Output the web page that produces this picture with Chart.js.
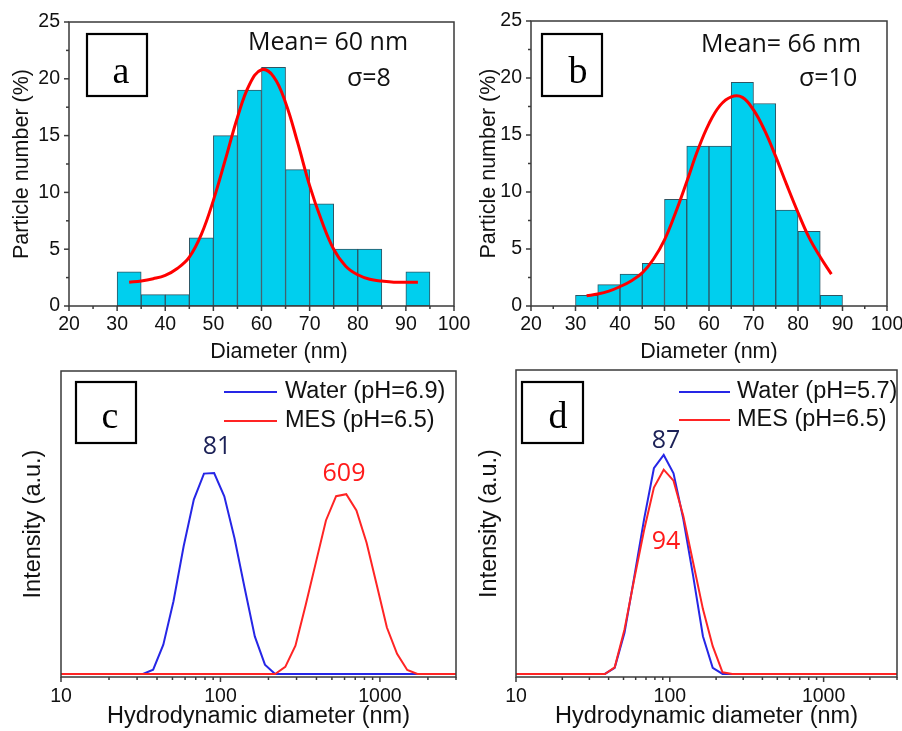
<!DOCTYPE html>
<html>
<head>
<meta charset="utf-8">
<script src="https://cdn.jsdelivr.net/npm/chart.js@4.4.1/dist/chart.umd.min.js"></script>
<style>
  html, body { margin: 0; padding: 0; background: #fff; overflow: hidden; }
  #figure { position: relative; width: 902px; height: 731px; overflow: hidden; background: #fff; }
  #figure canvas { position: absolute; }
</style>
</head>
<body>
<div id="figure">
  <canvas id="panelA" width="480" height="370" style="left:0;top:0"></canvas>
  <canvas id="panelB" width="460" height="370" style="left:462px;top:0"></canvas>
  <canvas id="panelC" width="460" height="391" style="left:0;top:340px"></canvas>
  <canvas id="panelD" width="460" height="391" style="left:460px;top:340px"></canvas>
</div>
<script>
// histogram bins (centre of each 5 nm class) and particle number in %
const binsA = [32.5, 37.5, 42.5, 47.5, 52.5, 57.5, 62.5, 67.5, 72.5, 77.5, 82.5, 87.5, 92.5];
const percentA = [3, 1, 1, 6, 15, 19, 21, 12, 9, 5, 5, 0, 3];
const binsB = [32.5, 37.5, 42.5, 47.5, 52.5, 57.5, 62.5, 67.5, 72.5, 77.5, 82.5, 87.5];
const percentB = [0.93, 1.87, 2.80, 3.74, 9.35, 14.02, 14.02, 19.63, 17.76, 8.41, 6.54, 0.93];

// gaussian fit curves
const fitXA = [32.5, 35, 37.5, 40, 42.5, 45, 47.5, 50, 52.5, 55, 57.5, 60, 62.5, 65, 67.5, 70, 72.5, 75, 77.5, 80, 82.5, 85, 87.5, 90, 92.5];
const fitYA = [2.1, 2.2, 2.4, 2.7, 3.3, 4.3, 6.3, 9.3, 12.9, 16.6, 19.5, 20.8, 20.2, 17.9, 14.4, 10.6, 7.5, 5.0, 3.5, 2.75, 2.35, 2.2, 2.1, 2.1, 2.1];
const fitXB = [32.5, 35, 37.5, 40, 42.5, 45, 47.5, 50, 52.5, 55, 57.5, 60, 62.5, 65, 67.5, 70, 72.5, 75, 77.5, 80, 82.5, 85, 87.5];
const fitYB = [0.9, 1.05, 1.3, 1.7, 2.2, 2.9, 4.1, 5.8, 8.2, 10.9, 13.7, 16.0, 17.6, 18.35, 18.3, 17.2, 15.4, 13.1, 10.6, 8.2, 6.0, 4.3, 2.8];

// DLS size classes (nm) and intensity distributions
const sizeClasses = [8.721, 10.1, 11.7, 13.54, 15.69, 18.17, 21.04, 24.36, 28.21, 32.67, 37.84, 43.82, 50.75, 58.77, 68.06, 78.82, 91.28, 105.7, 122.4, 141.8, 164.2, 190.1, 220.2, 255.0, 295.3, 342.0, 396.1, 458.7, 531.2, 615.1, 712.4, 825.0, 955.4, 1106, 1281, 1484, 1718, 1990, 2305, 2669, 3091];
const waterC = [0, 0, 0, 0, 0, 0, 0, 0, 0, 0, 0.021, 0.145, 0.36, 0.632, 0.863, 0.992, 0.995, 0.88, 0.673, 0.426, 0.186, 0.046, 0, 0, 0, 0, 0, 0, 0, 0, 0, 0, 0, 0, 0, 0, 0, 0, 0, 0, 0];
const mesC = [0, 0, 0, 0, 0, 0, 0, 0, 0, 0, 0, 0, 0, 0, 0, 0, 0, 0, 0, 0, 0, 0, 0, 0.035, 0.14, 0.34, 0.55, 0.76, 0.88, 0.89, 0.81, 0.65, 0.44, 0.23, 0.10, 0.02, 0, 0, 0, 0, 0];
const waterD = [0, 0, 0, 0, 0, 0, 0, 0, 0, 0, 0, 0.03, 0.203, 0.48, 0.764, 1.015, 1.081, 0.99, 0.764, 0.484, 0.186, 0.03, 0, 0, 0, 0, 0, 0, 0, 0, 0, 0, 0, 0, 0, 0, 0, 0, 0, 0, 0];
const mesD = [0, 0, 0, 0, 0, 0, 0, 0, 0, 0, 0, 0.033, 0.22, 0.47, 0.71, 0.92, 1.008, 0.954, 0.78, 0.55, 0.32, 0.137, 0.008, 0, 0, 0, 0, 0, 0, 0, 0, 0, 0, 0, 0, 0, 0, 0, 0, 0, 0];

// tick labels
const histTicksX = [20, 30, 40, 50, 60, 70, 80, 90, 100];
const histTicksY = [0, 5, 10, 15, 20, 25];
const dlsTicksX = [10, 100, 1000];

const SANS = 'Liberation Sans';
const NOTE = '25px "Open Sans"';
const INK = '#111';

Chart.defaults.font.family = SANS;
Chart.defaults.color = INK;

// minor ticks: halfway between histogram majors, 2..9 per decade on the log axis
const halfSteps = (majors) => majors.slice(1).map((v, i) => (v + majors[i]) / 2);
const decadeSteps = (majors, max) => {
  const out = [];
  majors.forEach(m => { for (let k = 2; k <= 9; k++) if (m * k <= max) out.push(m * k); });
  return out;
};

// frame, tick marks, letter box, notes and legend
const panelDeco = {
  id: 'panelDeco',
  afterDraw(chart, args, opts) {
    const {ctx, chartArea: ca, scales} = chart;
    ctx.save();
    ctx.strokeStyle = '#3a3a3a';
    ctx.lineWidth = 1.5;
    ctx.strokeRect(ca.left, ca.top, ca.right - ca.left, ca.bottom - ca.top);

    const tickMarks = (scale, values, len) => {
      values.forEach(v => {
        const p = scale.getPixelForValue(v);
        ctx.beginPath();
        if (scale.isHorizontal()) { ctx.moveTo(p, ca.bottom); ctx.lineTo(p, ca.bottom + len); }
        else { ctx.moveTo(ca.left, p); ctx.lineTo(ca.left - len, p); }
        ctx.stroke();
      });
    };
    Object.keys(opts.ticks || {}).forEach(key => {
      const t = opts.ticks[key];
      tickMarks(scales[key], t.major, 5);
      tickMarks(scales[key], t.minor, 3);
    });

    if (opts.box) {
      const b = opts.box;
      ctx.strokeStyle = '#000';
      ctx.lineWidth = 2.2;
      ctx.strokeRect(ca.left + b.x, ca.top + b.y, b.w, b.h);
      ctx.fillStyle = '#000';
      ctx.font = '38px "Liberation Serif"';
      ctx.textAlign = 'center';
      ctx.textBaseline = 'alphabetic';
      ctx.fillText(b.letter, ca.left + b.lx, ca.top + b.ly);
    }

    (opts.notes || []).forEach(n => {
      ctx.fillStyle = n.color || INK;
      ctx.font = n.font;
      ctx.textAlign = n.align || 'left';
      ctx.textBaseline = 'middle';
      ctx.fillText(n.text, ca.left + n.x, ca.top + n.y);
    });

    if (opts.legend) {
      const lg = opts.legend;
      chart.data.datasets.forEach((ds, i) => {
        const y = ca.top + lg.y + i * lg.gap;
        ctx.strokeStyle = ds.borderColor;
        ctx.lineWidth = ds.borderWidth;
        ctx.beginPath();
        ctx.moveTo(ca.left + lg.x1, y);
        ctx.lineTo(ca.left + lg.x2, y);
        ctx.stroke();
        ctx.fillStyle = INK;
        ctx.font = '23.5px ' + SANS;
        ctx.textAlign = 'left';
        ctx.textBaseline = 'middle';
        ctx.fillText(ds.label, ca.left + lg.tx, y);
      });
    }
    ctx.restore();
  }
};

function histChart(id, bins, pct, fitX, fitY, yAxisWidth, padRight, deco, xTitle) {
  return new Chart(document.getElementById(id), {
    type: 'bar',
    data: {
      datasets: [
        {
          type: 'line',
          data: fitX.map((x, i) => ({x, y: fitY[i]})),
          borderColor: '#ff0000',
          borderWidth: 3,
          pointRadius: 0,
          tension: 0.4,
          order: 0
        },
        {
          type: 'bar',
          data: bins.map((x, i) => ({x, y: pct[i]})),
          backgroundColor: '#00cfee',
          borderColor: '#2f5563',
          borderWidth: 1,
          borderSkipped: false,
          barPercentage: 1,
          categoryPercentage: 1,
          order: 1
        }
      ]
    },
    options: {
      responsive: false,
      animation: false,
      devicePixelRatio: 1,
      layout: {padding: {top: deco.padTop, right: padRight, left: 0, bottom: 0}},
      plugins: {legend: {display: false}, tooltip: {enabled: false}, panelDeco: deco},
      scales: {
        x: {
          type: 'linear', min: 20, max: 100, bounds: 'data', offset: false,
          afterBuildTicks: s => { s.ticks = histTicksX.map(v => ({value: v})); },
          afterFit: s => { s.height = 64; },
          grid: {display: false, drawTicks: false, offset: false},
          border: {display: false},
          ticks: {padding: 7, autoSkip: false, maxRotation: 0, font: {size: 19.5}, callback: v => v},
          title: {display: !!xTitle, text: xTitle || '', font: {size: 21.5}, padding: {top: 0, bottom: 5}}
        },
        y: {
          type: 'linear', min: 0, max: 25, bounds: 'data',
          afterBuildTicks: s => { s.ticks = histTicksY.map(v => ({value: v})); },
          afterFit: s => { s.width = yAxisWidth; },
          grid: {display: false, drawTicks: false},
          border: {display: false},
          ticks: {padding: 9, font: {size: 19.5}, callback: v => v},
          title: {display: true, text: 'Particle number (%)', font: {size: 21.5}, padding: {top: deco.yTitlePad, bottom: 0}}
        }
      }
    },
    plugins: [panelDeco]
  });
}

function dlsChart(id, water, mes, waterLabel, mesLabel, yAxisWidth, padRight, deco) {
  return new Chart(document.getElementById(id), {
    type: 'line',
    data: {
      datasets: [
        {label: waterLabel, data: sizeClasses.map((x, i) => ({x, y: water[i]})), borderColor: '#2626e6', borderWidth: 2, pointRadius: 0, tension: 0, order: 2},
        {label: mesLabel, data: sizeClasses.map((x, i) => ({x, y: mes[i]})), borderColor: '#ff2424', borderWidth: 2, pointRadius: 0, tension: 0, order: 1}
      ]
    },
    options: {
      responsive: false,
      animation: false,
      devicePixelRatio: 1,
      layout: {padding: {top: deco.padTop, right: padRight, left: 0, bottom: 0}},
      plugins: {legend: {display: false}, tooltip: {enabled: false}, panelDeco: deco},
      scales: {
        x: {
          type: 'logarithmic', min: 10, max: 3000, bounds: 'data',
          afterBuildTicks: s => { s.ticks = dlsTicksX.map(v => ({value: v})); },
          afterFit: s => { s.height = 54; },
          grid: {display: false, drawTicks: false},
          border: {display: false},
          ticks: {padding: 8.3, autoSkip: false, maxRotation: 0, font: {size: 19.5}, callback: v => v},
          title: {display: true, text: 'Hydrodynamic diameter (nm)', font: {size: 23.5}, padding: {top: 0, bottom: 0}}
        },
        y: {
          type: 'linear', min: -0.015, max: 1.5, bounds: 'data',
          afterFit: s => { s.width = yAxisWidth; },
          grid: {display: false, drawTicks: false},
          border: {display: false},
          ticks: {display: false},
          title: {display: true, text: 'Intensity (a.u.)', font: {size: 23.5}, padding: {top: deco.yTitlePad, bottom: 0}}
        }
      }
    },
    plugins: [panelDeco]
  });
}

const histTicks = {
  x: {major: histTicksX, minor: halfSteps(histTicksX)},
  y: {major: histTicksY, minor: halfSteps(histTicksY)}
};
const dlsTicks = {x: {major: dlsTicksX, minor: decadeSteps(dlsTicksX, 3000)}};

histChart('panelA', binsA, percentA, fitXA, fitYA, 69, 26, {
  padTop: 22, yTitlePad: 9, ticks: histTicks,
  box: {x: 18, y: 12, w: 60, h: 62, letter: 'a', lx: 52, ly: 61},
  notes: [
    {text: 'Mean= 60 nm', x: 179, y: 20.5, font: NOTE},
    {text: 'σ=8', x: 278, y: 56.5, font: NOTE},
    {text: 'Diameter (nm)', x: 210, y: 330, font: '21.5px ' + SANS, align: 'center'}
  ]
}, null);

histChart('panelB', binsB, percentB, fitXB, fitYB, 69, 35, {
  padTop: 21, yTitlePad: 14, ticks: histTicks,
  box: {x: 11, y: 13, w: 60, h: 62, letter: 'b', lx: 47, ly: 62},
  notes: [
    {text: 'Mean= 66 nm', x: 170, y: 24, font: NOTE},
    {text: 'σ=10', x: 268, y: 58, font: NOTE}
  ]
}, 'Diameter (nm)');

dlsChart('panelC', waterC, mesC, 'Water (pH=6.9)', 'MES (pH=6.5)', 61, 4, {
  padTop: 31, yTitlePad: 19, ticks: dlsTicks,
  box: {x: 15, y: 11, w: 60, h: 61, letter: 'c', lx: 49, ly: 57},
  legend: {x1: 163, x2: 216, tx: 224, y: 21, gap: 29},
  notes: [
    {text: '81', x: 156, y: 76, font: NOTE, color: '#1c2157', align: 'center'},
    {text: '609', x: 283, y: 102.5, font: NOTE, color: '#ff1a1a', align: 'center'}
  ]
});

dlsChart('panelD', waterD, mesD, 'Water (pH=5.7)', 'MES (pH=6.5)', 56, 23, {
  padTop: 30, yTitlePad: 15, ticks: dlsTicks,
  box: {x: 6, y: 12, w: 61, h: 61, letter: 'd', lx: 42, ly: 58},
  legend: {x1: 163, x2: 214, tx: 221, y: 22, gap: 28},
  notes: [
    {text: '87', x: 150, y: 71, font: NOTE, color: '#1c2157', align: 'center'},
    {text: '94', x: 150, y: 171.5, font: NOTE, color: '#ff1a1a', align: 'center'}
  ]
});
</script>
</body>
</html>
